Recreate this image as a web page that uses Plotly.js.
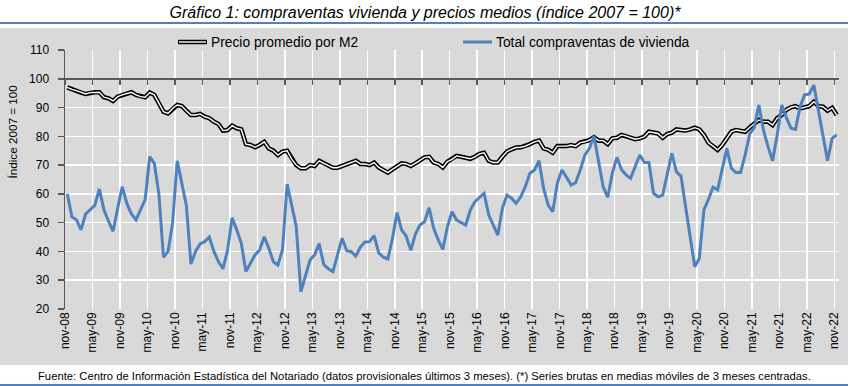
<!DOCTYPE html>
<html>
<head>
<meta charset="utf-8">
<script src="https://cdn.plot.ly/plotly-3.0.1.min.js"></script>
<style>
html,body{margin:0;padding:0;background:#fff;}
#chart{width:850px;height:386px;}
</style>
</head>
<body>
<div id="chart"></div>
<script>
// Tick labels (every 6 months, nov-08 .. nov-22)
const tickLabels = ['nov-08','may-09','nov-09','may-10','nov-10','may-11','nov-11','may-12','nov-12','may-13','nov-13','may-14','nov-14','may-15','nov-15','may-16','nov-16','may-17','nov-17','may-18','nov-18','may-19','nov-19','may-20','nov-20','may-21','nov-21','may-22','nov-22'];

// Total compraventas de vivienda (índice 2007 = 100), monthly nov-08 .. nov-22
const compraventas = [60,52,51,47.5,53,54.5,56,61.7,54.5,50.5,
47,55,62.5,56.7,53,51,54.5,58,73,70.6,
60,38,40,50,71.5,63.7,56,35.6,40,42.6,
43.4,45,40,36.5,34,40.5,51.7,47.5,42.8,33,
35.9,38.8,40.5,45.1,41.1,36.4,35.3,40.7,63.4,55.5,
48.6,26,31.8,37,38.8,42.7,35.4,34,33,38.4,
44.6,40.3,39.9,38.4,41.5,43.3,43.4,45.5,39.5,38,
37.4,44.5,53.5,47.5,45.3,40.4,46,49.2,50.3,55.2,
48,44,40.7,48.6,53.8,50.9,50,49.2,54.4,57.3,
58.8,60.2,52.7,49.2,45.7,55,59.6,58.5,56.7,59,
62.5,67.1,68.3,71.5,61.9,56.1,53.8,63.7,68.3,65.8,
63.1,63.9,68.3,73.5,75.8,80.1,71.8,62.5,58.8,67.1,
72.7,68.5,66.6,65.4,69.5,73.5,70.9,70.9,60.2,59,
59.6,67.1,74.1,67.7,66.2,55.6,45.1,34.7,37.6,54.4,
58.1,62.3,61.4,68.9,75.8,68.9,67.4,67.4,73.5,80.8,
83.1,90.9,82.2,76.4,71.5,80.5,90.9,86.6,82.8,82.4,
90.3,94.4,94.7,97.8,88.6,79.9,71.5,79.3,80.5];

// Precio promedio por M2 (índice 2007 = 100)
const precioM2 = [97,96.3,95.9,95.2,94.7,95.2,95.3,95.3,93.6,93.2,
92.3,93.8,94.4,94.9,95.3,94.4,93.8,93.6,95.2,94.4,
91.5,88.6,88,89.7,90.9,90.5,88.9,87.4,87.4,87.8,
86.8,86.3,85.1,84.3,82,82.2,83.7,82.8,82.4,77.3,
77,76.2,77,78.1,75.8,75,73.5,74.7,75,72.1,
70,68.9,68.9,70,69.7,71.5,70.6,69.7,69.1,69.1,
69.7,70.4,70.9,71.5,70.4,70.4,70,70.9,69.2,68.3,
67.4,68.5,69.7,70.6,70.4,69.7,70.6,71.5,72.7,72.9,
70.9,70.4,69.2,71.2,72,73.2,72.9,72.7,72.2,72.9,
73.9,74.3,71.5,70.9,70.9,72.9,74.7,75.5,76.1,76.2,
76.6,77.3,78.1,78.5,75.8,75.3,74.3,76.6,76.6,76.6,
77,76.6,77.8,78.1,78.7,79.7,78.5,78.5,77.3,79.3,
79.5,80.5,80.1,79.5,79,79.3,79.9,81.6,81.3,81,
79.5,80.8,81.3,82.4,82.2,82,82.4,83,82.4,80.5,
77.8,76.4,75.3,77,79.3,81.6,82.2,81.9,81.6,83.1,
84.5,85.7,85.1,85.1,83.9,86.3,87.4,89.2,90.1,90.5,
89.7,90.1,90.5,92,90.5,90.3,88.9,89.9,87.4];

const idx = compraventas.map((_, i) => i);
const tickVals = tickLabels.map((_, k) => k * 6 - 0.5);

const W = 850, H = 386;
const mL = 65, mR = 11, mT = 50, mB = 77;
const pw = W - mL - mR, ph = H - mT - mB;
const px = x => (x - mL) / pw;
const py = y => (H - mB - y) / ph;

const blue = '#4f81bd';
const axisCol = '#595959';
const font = 'Liberation Sans, Arial, sans-serif';

const traces = [
  {x: idx, y: precioM2, type: 'scatter', mode: 'lines', line: {color: '#000', width: 4.5}, hoverinfo: 'skip', showlegend: false},
  {x: idx, y: precioM2, type: 'scatter', mode: 'lines', name: 'Precio promedio por M2', line: {color: '#fff', width: 1.4}, showlegend: false},
  {x: idx, y: compraventas, type: 'scatter', mode: 'lines', name: 'Total compraventas de vivienda', line: {color: blue, width: 3}, showlegend: false},
  {x: [0], y: [0], xaxis: 'x2', type: 'scatter', mode: 'markers', marker: {opacity: 0}, hoverinfo: 'skip', showlegend: false}
];

const layout = {
  width: W, height: H,
  margin: {l: mL, r: mR, t: mT, b: mB},
  paper_bgcolor: '#fff',
  plot_bgcolor: '#d9d9d9',
  showlegend: false,
  title: {
    text: '<i>Gráfico 1: compraventas vivienda y precios medios (índice 2007 = 100)*</i>',
    font: {family: font, size: 16, color: '#000'},
    x: 0.5, xref: 'container', xanchor: 'center',
    y: 1 - 12 / H, yref: 'container', yanchor: 'middle'
  },
  xaxis: {
    range: [-0.5, compraventas.length - 0.5],
    tickvals: tickVals, ticktext: tickLabels,
    tickangle: -90,
    tickfont: {family: font, size: 12, color: '#000'},
    showgrid: true, gridcolor: '#fff', gridwidth: 1.5,
    zeroline: false, showline: false, ticks: '',
    fixedrange: true
  },
  xaxis2: {
    overlaying: 'x', matches: 'x', anchor: 'free', position: (100 - 20) / (110 - 20),
    side: 'bottom',
    tickvals: tickVals, showticklabels: false,
    showgrid: false, zeroline: false,
    showline: true, linecolor: axisCol, linewidth: 2,
    ticks: 'outside', ticklen: 5, tickcolor: axisCol, tickwidth: 1.5
  },
  yaxis: {
    range: [20, 110], dtick: 10, tick0: 20,
    tickfont: {family: font, size: 12, color: '#000'},
    showgrid: true, gridcolor: '#fff', gridwidth: 1.5,
    zeroline: false,
    showline: true, linecolor: axisCol, linewidth: 1.5,
    ticks: 'outside', ticklen: 6, tickcolor: axisCol, tickwidth: 1.5,
    ticklabelstandoff: 6,
    fixedrange: true
  },
  shapes: [
    {type: 'rect', xref: 'paper', yref: 'paper', x0: px(0), x1: px(848), y0: py(365), y1: py(28), fillcolor: '#d9d9d9', line: {width: 0}, layer: 'below'},
    {type: 'line', xref: 'paper', yref: 'paper', x0: px(0), x1: px(848), y0: py(23), y1: py(23), line: {color: blue, width: 2}},
    {type: 'line', xref: 'paper', yref: 'paper', x0: px(0), x1: px(848), y0: py(385), y1: py(385), line: {color: blue, width: 2}},
    {type: 'line', xref: 'paper', yref: 'paper', x0: px(178), x1: px(207), y0: py(42), y1: py(42), line: {color: '#000', width: 4.5}},
    {type: 'line', xref: 'paper', yref: 'paper', x0: px(179), x1: px(206), y0: py(42), y1: py(42), line: {color: '#fff', width: 1.4}},
    {type: 'line', xref: 'paper', yref: 'paper', x0: px(463), x1: px(492), y0: py(42), y1: py(42), line: {color: blue, width: 3}}
  ],
  annotations: [
    {text: 'Precio promedio por M2', xref: 'paper', yref: 'paper', x: px(209), y: py(42), xanchor: 'left', yanchor: 'middle', showarrow: false, font: {family: font, size: 13.8, color: '#000'}},
    {text: 'Total compraventas de vivienda', xref: 'paper', yref: 'paper', x: px(494), y: py(42), xanchor: 'left', yanchor: 'middle', showarrow: false, font: {family: font, size: 13.8, color: '#000'}},
    {text: 'Índice 2007 = 100', xref: 'paper', yref: 'paper', x: px(12), y: py(131.5), xanchor: 'center', yanchor: 'middle', textangle: -90, showarrow: false, font: {family: font, size: 11.7, color: '#000'}},
    {text: 'Fuente: Centro de Información Estadística del Notariado (datos provisionales últimos 3 meses). (*) Series brutas en medias móviles de 3 meses centradas.', xref: 'paper', yref: 'paper', x: px(424), y: py(376), xanchor: 'center', yanchor: 'middle', showarrow: false, font: {family: font, size: 11.25, color: '#000'}}
  ]
};

Plotly.newPlot('chart', traces, layout, {staticPlot: true, displayModeBar: false});
</script>
</body>
</html>
